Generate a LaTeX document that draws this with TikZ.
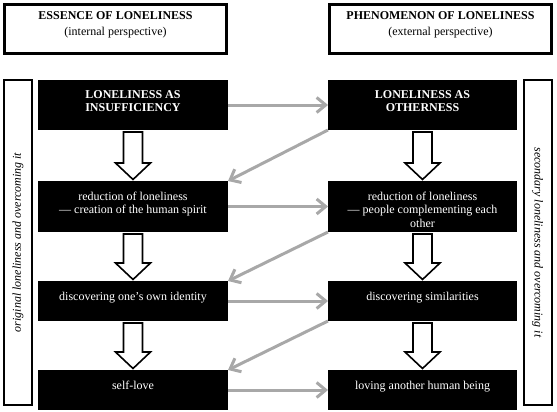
\documentclass[tikz,border=0pt]{standalone}
\usepackage{fontspec}
\setmainfont{Liberation Serif}
\usetikzlibrary{arrows.meta,calc}
\definecolor{arrgray}{RGB}{168,168,168}
\tikzset{
  x=1pt,y=-1pt,
  blackbox/.style={fill=black, minimum width=190pt, inner sep=0pt, outer sep=0pt},
  boxtext/.style={text=white, align=center, anchor=north, inner sep=0pt, font=\fontsize{12}{13.5}\selectfont},
  headbox/.style={draw, line width=3pt, minimum width=222pt, minimum height=49pt, inner sep=0pt},
  headtext/.style={align=center, inner sep=0pt, anchor=north, font=\fontsize{12}{15.5}\selectfont},
  sidebox/.style={draw, line width=2pt, minimum width=28pt, minimum height=324pt, inner sep=0pt},
  sidetext/.style={font=\fontsize{12}{14}\selectfont\itshape, inner sep=0pt},
  grayarrow/.style={draw=arrgray, line width=3pt, -{Straight Barb[length=9pt,width=15pt]}},
  barrow/.style={draw=black, line width=1.6pt, fill=white, line join=miter},
}
\newcommand\blockarr[2]{%
  \draw[barrow] ($(#1.south)+(-9.5,2)$) -- ($(#2.north)+(-9.5,-18)$) -- ($(#2.north)+(-17.5,-18)$)
    -- ($(#2.north)+(0,-1.5)$) -- ($(#2.north)+(17.5,-18)$) -- ($(#2.north)+(9.5,-18)$)
    -- ($(#1.south)+(9.5,2)$) -- cycle;}
\begin{document}
\begin{tikzpicture}
\useasboundingbox (0,0) rectangle (557,412);
% header boxes
\node[headbox] (HL) at (115.5,29) {};
\node[headtext] (HLt) at ($(HL.north)+(0,8.5)$) {\textbf{ESSENCE OF LONELINESS}\\(internal perspective)};
\node[headbox] (HR) at (440.5,29) {};
\node[headtext] (HRt) at ($(HR.north)+(0,8.5)$) {\textbf{PHENOMENON OF LONELINESS}\\(external perspective)};
% side panels
\node[sidebox] (SL) at (18,242.5) {};
\node[sidetext, rotate=90] (SLt) at (SL.center) {original loneliness and overcoming it};
\node[sidebox] (SR) at (537.5,242.5) {};
\node[sidetext, rotate=-90] (SRt) at (SR.center) {secondary loneliness and overcoming it};
% black boxes left
\node[blackbox, minimum height=50pt] (L1) at (133,105) {};
\node[blackbox, minimum height=51pt] (L2) at (133,206.5) {};
\node[blackbox, minimum height=40pt] (L3) at (133,301) {};
\node[blackbox, minimum height=40pt] (L4) at (133,390) {};
% black boxes right
\node[blackbox, minimum height=50pt, minimum width=189pt] (R1) at (422.5,105) {};
\node[blackbox, minimum height=51pt, minimum width=189pt] (R2) at (422.5,206.5) {};
\node[blackbox, minimum height=40pt, minimum width=189pt] (R3) at (422.5,301) {};
\node[blackbox, minimum height=40pt, minimum width=189pt] (R4) at (422.5,390) {};
% texts
\node[boxtext, font=\fontsize{12}{13.5}\selectfont\bfseries] (L1t) at ($(L1.north)+(0,10)$) {LONELINESS AS\\INSUFFICIENCY};
\node[boxtext] (L2t) at ($(L2.north)+(0,10.5)$) {reduction of loneliness\\— creation of the human spirit};
\node[boxtext] (L3t) at ($(L3.north)+(0,10.5)$) {discovering one’s own identity};
\node[boxtext] (L4t) at ($(L4.north)+(0,10.5)$) {self-love};
\node[boxtext, font=\fontsize{12}{13.5}\selectfont\bfseries] (R1t) at ($(R1.north)+(0,10)$) {LONELINESS AS\\OTHERNESS};
\node[boxtext] (R2t) at ($(R2.north)+(0,10.5)$) {reduction of loneliness\\— people complementing each\\other};
\node[boxtext] (R3t) at ($(R3.north)+(0,10.5)$) {discovering similarities};
\node[boxtext] (R4t) at ($(R4.north)+(0,10.5)$) {loving another human being};
% block arrows
\blockarr{L1}{L2}
\blockarr{L2}{L3}
\blockarr{L3}{L4}
\blockarr{R1}{R2}
\blockarr{R2}{R3}
\blockarr{R3}{R4}
% gray arrows
\draw[grayarrow] (L1.east) -- (R1.west);
\draw[grayarrow] (R1.south west) -- (L2.north east);
\draw[grayarrow] (L2.east) -- (R2.west);
\draw[grayarrow] (R2.south west) -- (L3.north east);
\draw[grayarrow] (L3.east) -- (R3.west);
\draw[grayarrow] (R3.south west) -- (L4.north east);
\draw[grayarrow] (L4.east) -- (R4.west);
\end{tikzpicture}
\end{document}
